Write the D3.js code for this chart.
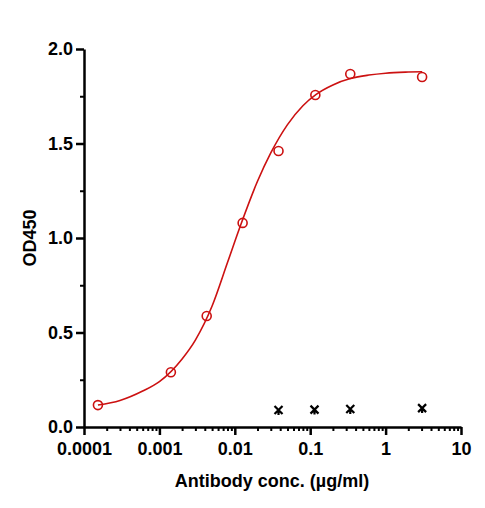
<!DOCTYPE html>
<html><head><meta charset="utf-8">
<script src="https://cdn.jsdelivr.net/npm/d3@7"></script>
<style>body{margin:0;background:#fff}</style></head>
<body><script>
const conc = [0.000153, 0.00142, 0.00424, 0.0127, 0.038, 0.117, 0.34, 3.05];
const od = [0.116, 0.29, 0.587, 1.08, 1.46, 1.757, 1.868, 1.852];
// Negative control
const ctrlConc = [0.038, 0.114, 0.34, 3.05];
const ctrlOd = [0.09, 0.092, 0.095, 0.1];
// Fitted curve
const curveX = [0.000153, 0.0003, 0.0006, 0.001, 0.002, 0.003, 0.005, 0.008, 0.012, 0.02, 0.03, 0.05, 0.08, 0.12, 0.2, 0.35, 0.6, 1, 2, 3.05];
const curveY = [0.116, 0.14, 0.19, 0.24, 0.36, 0.46, 0.64, 0.87, 1.07, 1.3, 1.45, 1.6, 1.7, 1.76, 1.81, 1.845, 1.862, 1.872, 1.878, 1.88];
const xTicks = [0.0001, 0.001, 0.01, 0.1, 1, 10];
const yTicks = [0, 0.5, 1.0, 1.5, 2.0];

const svg = d3.select("body").append("svg").attr("width", 485).attr("height", 508)
  .style("font-family", "'Liberation Sans', Arial, sans-serif").style("font-weight", "bold");

const x = d3.scaleLog().domain([0.0001, 10]).range([84, 461]);
const y = d3.scaleLinear().domain([0, 2]).range([427, 49]);

// minor ticks
const minorX = [];
for (let e = -4; e < 1; e++) for (let m = 2; m <= 9; m++) minorX.push(m * Math.pow(10, e));
svg.append("g").attr("transform", "translate(0,427)")
  .call(d3.axisBottom(x).tickValues(minorX).tickSize(4).tickFormat(""))
  .call(g => g.select(".domain").remove())
  .selectAll("line").attr("stroke-width", 2);
svg.append("g").attr("transform", "translate(84,0)")
  .call(d3.axisLeft(y).tickValues([0.25, 0.75, 1.25, 1.75]).tickSize(4).tickFormat(""))
  .call(g => g.select(".domain").remove())
  .selectAll("line").attr("stroke-width", 2);

const xa = svg.append("g").attr("transform", "translate(0,427)")
  .call(d3.axisBottom(x).tickValues(xTicks).tickSize(8).tickSizeOuter(0).tickFormat(d => String(d)));
const ya = svg.append("g").attr("transform", "translate(84,0)")
  .call(d3.axisLeft(y).tickValues(yTicks).tickSize(8).tickSizeOuter(0).tickFormat(d3.format(".1f")));
[xa, ya].forEach(g => {
  g.selectAll("path,line").attr("stroke", "#000").attr("stroke-width", 2.5);
  g.selectAll("text").style("font-size", "18px").style("font-weight", "bold").attr("fill", "#000");
});
xa.selectAll("text").attr("dy", "0.95em");
ya.selectAll("text").attr("x", -11);

svg.append("text").attr("x", 272).attr("y", 487).attr("text-anchor", "middle")
  .style("font-size", "18px").text("Antibody conc. (µg/ml)");
svg.append("text").attr("transform", "translate(36,238) rotate(-90)").attr("text-anchor", "middle")
  .style("font-size", "18px").text("OD450");

const line = d3.line().x(d => x(d[0])).y(d => y(d[1])).curve(d3.curveMonotoneX);
svg.append("path").datum(d3.zip(curveX, curveY)).attr("d", line)
  .attr("fill", "none").attr("stroke", "#cc1111").attr("stroke-width", 1.6);

svg.selectAll("circle.pt").data(d3.zip(conc, od)).enter().append("circle")
  .attr("cx", d => x(d[0])).attr("cy", d => y(d[1])).attr("r", 4.5)
  .attr("fill", "none").attr("stroke", "#cc1111").attr("stroke-width", 1.6);

svg.selectAll("path.cross").data(d3.zip(ctrlConc, ctrlOd)).enter().append("path")
  .attr("transform", d => `translate(${x(d[0])},${y(d[1])})`)
  .attr("d", "M-4,-4L4,4M4,-4L-4,4M0,0L0,5")
  .attr("stroke", "#000").attr("stroke-width", 2.2).attr("fill", "none");
</script></body></html>
